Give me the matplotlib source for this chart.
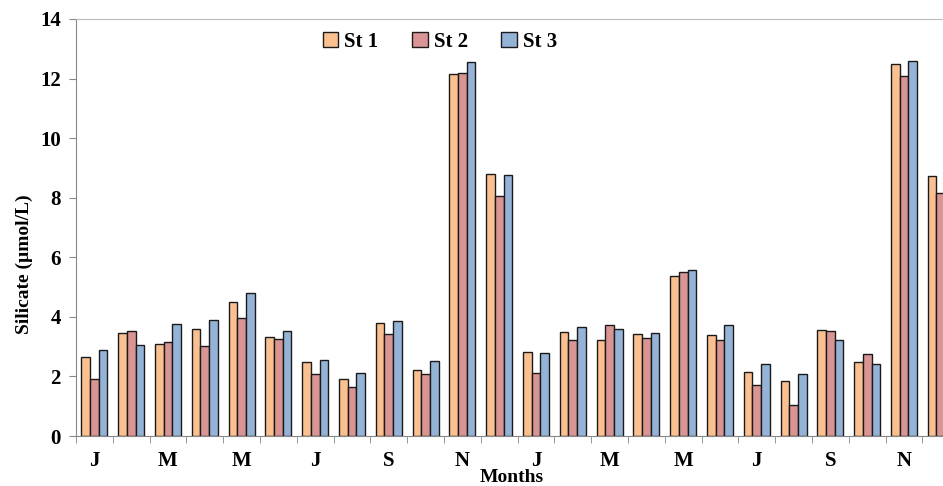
import matplotlib
matplotlib.use("Agg")
import matplotlib.pyplot as plt
import numpy as np
from matplotlib.ticker import FixedLocator

months = ["J", "F", "M", "A", "M", "J", "J", "A", "S", "O", "N", "D"] * 2
labels_shown = ["J", "M", "M", "J", "S", "N", "J", "M", "M", "J", "S", "N"]
st1 = [2.65, 3.45, 3.08, 3.60, 4.50, 3.33, 2.50, 1.92, 3.80, 2.20, 12.17, 8.78,
       2.83, 3.50, 3.22, 3.42, 5.37, 3.38, 2.15, 1.85, 3.57, 2.50, 12.48, 8.72]
st2 = [1.91, 3.52, 3.15, 3.02, 3.97, 3.27, 2.08, 1.63, 3.42, 2.08, 12.20, 8.05,
       2.12, 3.22, 3.73, 3.30, 5.50, 3.22, 1.72, 1.05, 3.53, 2.75, 12.10, 8.15]
st3 = [2.90, 3.05, 3.75, 3.90, 4.80, 3.53, 2.55, 2.13, 3.85, 2.52, 12.55, 8.75,
       2.77, 3.67, 3.60, 3.47, 5.58, 3.73, 2.43, 2.08, 3.22, 2.43, 12.60, 9.00]
series = ["St 1", "St 2", "St 3"]
colors = ["#FAC090", "#D99594", "#95B3D7"]

plt.rcParams['font.family'] = ['Liberation Serif', 'DejaVu Serif']
plt.rcParams['font.weight'] = 'bold'

fig = plt.figure(figsize=(9.43, 4.86), dpi=100)
ax = fig.add_axes([76/943, 50/486, (943-76)/943, 417/486])

n = len(months)
x = np.arange(n) + 0.5
w = 0.235
for k, (vals, col, name) in enumerate(zip([st1, st2, st3], colors, series)):
    ax.bar(x + (k - 1) * w, vals, width=w, color=col, edgecolor="#1a1a1a",
           linewidth=1.0, label=name)

ax.set_xlim(0, (943-76)/36.8)
ax.set_ylim(0, 14)
ax.set_yticks(np.arange(0, 15, 2))
ax.tick_params(axis='y', labelsize=15, length=5, color="#888888", direction='out', pad=6)

ax.xaxis.set_major_locator(FixedLocator(x[::2]))
ax.set_xticklabels(labels_shown)
ax.xaxis.set_minor_locator(FixedLocator(np.arange(0, n + 1)))
ax.tick_params(axis='x', which='major', length=0, labelsize=15, pad=11)
ax.tick_params(axis='x', which='minor', length=5, color="#888888", direction='out')
for lab in ax.get_xticklabels() + ax.get_yticklabels():
    lab.set_fontweight('bold')

ax.spines['right'].set_visible(False)
ax.spines['top'].set_color("#bbbbbb")
ax.spines['left'].set_color("#888888")
ax.spines['bottom'].set_color("#888888")

ax.set_ylabel("Silicate (µmol/L)", fontsize=14, fontweight='bold')
ax.yaxis.set_label_coords(-0.050, (436-264)/417)
ax.set_xlabel("Months", fontsize=14, fontweight='bold')
ax.xaxis.set_label_coords((512-76)/867, -0.08)

leg = ax.legend(loc='center', bbox_to_anchor=((440-76)/867, (436-42)/417), ncol=3,
                frameon=False, handlelength=0.75, handleheight=0.75,
                handletextpad=0.3, columnspacing=1.6, prop={'weight': 'bold', 'size': 15})

fig.savefig("out.png", dpi=100)
